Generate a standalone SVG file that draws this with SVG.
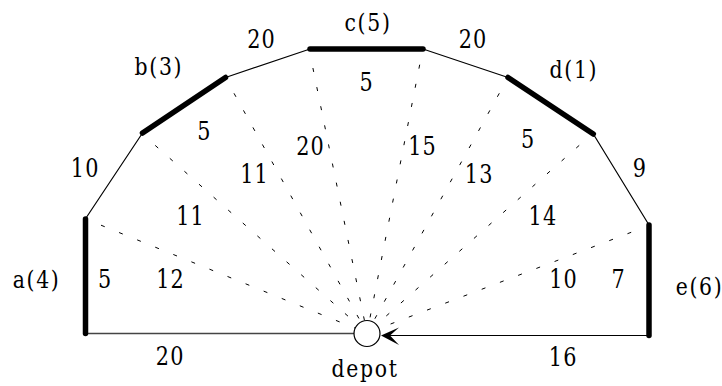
<svg xmlns="http://www.w3.org/2000/svg" width="722" height="386" viewBox="0 0 722 386">
<style>
.thin{stroke:#000;stroke-width:1.2;fill:none;stroke-linecap:round}
.thick{stroke:#000;stroke-width:5.5;fill:none;stroke-linecap:round}
.dash{stroke:#000;stroke-width:1;fill:none;stroke-dasharray:4 15.5}
text{font-family:'DejaVu Serif','Liberation Serif',serif;fill:#000;text-anchor:middle}
.w{font-size:26px;letter-spacing:1.5px}
.n{font-size:24px;letter-spacing:2px}
</style>
<rect width="722" height="386" fill="#fff"/>
<g id="connectors">
<line class="dash" x1="101" y1="225.2" x2="367" y2="333"/>
<line class="dash" x1="155.2" y1="145.4" x2="367" y2="333"/>
<line class="dash" x1="234" y1="93.3" x2="367" y2="333"/>
<line class="dash" x1="312.9" y1="68" x2="367" y2="333"/>
<line class="dash" x1="419.7" y1="64.7" x2="367" y2="333"/>
<line class="dash" x1="499.3" y1="93.3" x2="367" y2="333"/>
<line class="dash" x1="579.2" y1="145.4" x2="367" y2="333"/>
<line class="dash" x1="631.2" y1="232.3" x2="367" y2="333"/>
<line class="thin" x1="86" y1="218" x2="142.5" y2="133"/>
<line class="thin" x1="225.5" y1="77.5" x2="310" y2="49"/>
<line class="thin" x1="423" y1="49" x2="508" y2="77.5"/>
<line class="thin" x1="593.3" y1="134" x2="649" y2="225"/>
<line x1="86" y1="333.5" x2="354" y2="333.5" stroke="#444" stroke-width="1.6"/>
<line class="thin" x1="649" y1="335.5" x2="388" y2="335.5"/>
<path d="M381,335.5 L399,327.5 L390,335.5 L399,345 Z" fill="#000"/>
</g>
<g id="edge-a"><line class="thick" x1="85.5" y1="219" x2="85.5" y2="333.5"/></g>
<g id="edge-b"><line class="thick" x1="142.5" y1="133" x2="225.5" y2="77.5"/></g>
<g id="edge-c"><line class="thick" x1="310" y1="49" x2="423" y2="49"/></g>
<g id="edge-d"><line class="thick" x1="508" y1="77.5" x2="593.3" y2="134"/></g>
<g id="edge-e"><line class="thick" x1="649" y1="225" x2="649" y2="335.5"/></g>
<g id="depot">
<circle cx="367" cy="333.5" r="13" fill="#fff" stroke="#000" stroke-width="1.2"/>
<text class="n" x="1" transform="translate(364.3,377.3) scale(0.85,1)">depot</text>
</g>
<g id="labels">
<text class="n" x="1" transform="translate(367.2,31) scale(0.85,1)">c(5)</text>
<text class="n" x="1" transform="translate(158,75) scale(0.85,1)">b(3)</text>
<text class="n" x="1" transform="translate(573,78.3) scale(0.85,1)">d(1)</text>
<text class="n" x="1" transform="translate(35.7,288) scale(0.85,1)">a(4)</text>
<text class="n" x="1" transform="translate(698.7,294.7) scale(0.85,1)">e(6)</text>
</g>
<g id="weights">
<text class="w" x="0.75" transform="translate(261,47.7) scale(0.8,1)">20</text>
<text class="w" x="0.75" transform="translate(84.7,176.7) scale(0.8,1)">10</text>
<text class="w" x="0.75" transform="translate(203.8,140) scale(0.8,1)">5</text>
<text class="w" x="0.75" transform="translate(310,155) scale(0.8,1)">20</text>
<text class="w" x="0.75" transform="translate(254,182.7) scale(0.8,1)">11</text>
<text class="w" x="0.75" transform="translate(190,225) scale(0.8,1)">11</text>
<text class="w" x="0.75" transform="translate(104.7,288) scale(0.8,1)">5</text>
<text class="w" x="0.75" transform="translate(170,288) scale(0.8,1)">12</text>
<text class="w" x="0.75" transform="translate(169.7,365.3) scale(0.8,1)">20</text>
<text class="w" x="0.75" transform="translate(366,90.7) scale(0.8,1)">5</text>
<text class="w" x="0.75" transform="translate(472.5,47.7) scale(0.8,1)">20</text>
<text class="w" x="0.75" transform="translate(422,155) scale(0.8,1)">15</text>
<text class="w" x="0.75" transform="translate(527.7,148.3) scale(0.8,1)">5</text>
<text class="w" x="0.75" transform="translate(478.7,182.7) scale(0.8,1)">13</text>
<text class="w" x="0.75" transform="translate(639.3,176.7) scale(0.8,1)">9</text>
<text class="w" x="0.75" transform="translate(542.3,225.3) scale(0.8,1)">14</text>
<text class="w" x="0.75" transform="translate(563,288) scale(0.8,1)">10</text>
<text class="w" x="0.75" transform="translate(618,288) scale(0.8,1)">7</text>
<text class="w" x="0.75" transform="translate(562.7,366.3) scale(0.8,1)">16</text>
</g>
</svg>
